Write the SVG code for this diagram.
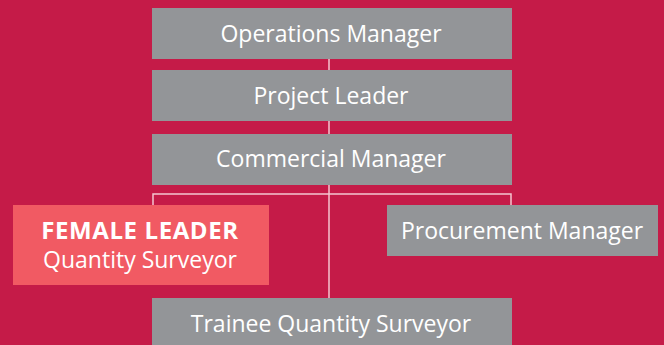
<svg xmlns="http://www.w3.org/2000/svg" width="664" height="345" viewBox="0 0 664 345">
<style>
.bg{fill:#c51b48}
.box{fill:#939598}
.hl{fill:#f15a63}
.t{font-family:"Open Sans","Noto Sans",sans-serif;font-size:23px;fill:#ffffff;text-anchor:middle}
.b{font-weight:bold;font-size:24px;letter-spacing:0.6px}
.c{stroke:#f4c6cf;stroke-width:1.5;fill:none}
</style>
<rect class="bg" x="0" y="0" width="664" height="345"/>
<g id="connectors">
<line class="c" x1="329" y1="59" x2="329" y2="70"/>
<line class="c" x1="329" y1="121" x2="329" y2="134"/>
<line class="c" x1="329" y1="185" x2="329" y2="298"/>
<polyline class="c" points="153,205 153,194 511,194 511,205"/>
</g>
<g id="operations-manager">
<rect class="box" x="152" y="8" width="360" height="51"/>
<text class="t" x="331" y="42">Operations Manager</text>
</g>
<g id="project-leader">
<rect class="box" x="152" y="70" width="360" height="51"/>
<text class="t" x="331" y="104">Project Leader</text>
</g>
<g id="commercial-manager">
<rect class="box" x="152" y="134" width="360" height="51"/>
<text class="t" x="331" y="167">Commercial Manager</text>
</g>
<g id="female-leader">
<rect class="hl" x="13" y="205" width="256" height="80"/>
<text class="t b" x="140" y="239">FEMALE LEADER</text>
<text class="t" x="140" y="268">Quantity Surveyor</text>
</g>
<g id="procurement-manager">
<rect class="box" x="387" y="205" width="271" height="51"/>
<text class="t" x="522" y="239">Procurement Manager</text>
</g>
<g id="trainee-quantity-surveyor">
<rect class="box" x="152" y="298" width="360" height="51"/>
<text class="t" x="331" y="332">Trainee Quantity Surveyor</text>
</g>
</svg>
